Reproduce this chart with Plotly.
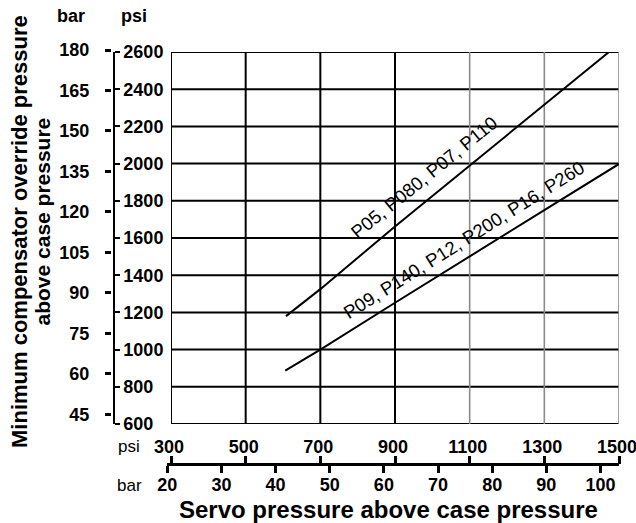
import plotly.graph_objects as go

# psi per bar
BAR_TO_PSI = 14.5038

# tick values
psi_y_ticks = [600, 800, 1000, 1200, 1400, 1600, 1800, 2000, 2200, 2400, 2600]
bar_y_ticks = [45, 60, 75, 90, 105, 120, 135, 150, 165, 180]
psi_x_ticks = [300, 500, 700, 900, 1100, 1300, 1500]
bar_x_ticks = [20, 30, 40, 50, 60, 70, 80, 90, 100]
gray_x_lines = [1100, 1300, 1500]

# curves (servo psi -> min compensator psi)
upper_servo = [608, 700, 900, 1100, 1478]
upper_comp = [1180, 1325, 1662, 1990, 2608]
upper_label = "P05, P080, P07, P110"

lower_servo = [606, 700, 900, 1100, 1300, 1500]
lower_comp = [887, 1000, 1252, 1499, 1750, 1998]
lower_label = "P09, P140, P12, P200, P16, P260"

FONT = "Liberation Sans, Arial, sans-serif"

# page geometry (pixels) -> paper fractions
ML, MR, MT, MB = 60, 17, 46, 40
W, H = 636, 523
PW, PH = W - ML - MR, H - MT - MB


def fx(p):
    return (p - ML) / PW


def fy(p):
    return (H - MB - p) / PH


xd0 = fx(171)
yd0, yd1 = fy(424), fy(52)
x_span = psi_x_ticks[-1] - psi_x_ticks[0]
y_span = psi_y_ticks[-1] - psi_y_ticks[0]

# bar x axis starts a little left of 300 psi so the 20 bar tick shows
bar_x_lo_psi = 289
bx0 = xd0 - (psi_x_ticks[0] - bar_x_lo_psi) / x_span * (1 - xd0)
# bar y axis runs a little above 2600 psi so the 180 bar tick shows
bar_y_hi_psi = psi_y_ticks[0] + (1 - yd0) / (yd1 - yd0) * y_span

fig = go.Figure()

fig.add_trace(go.Scatter(x=upper_servo, y=upper_comp, mode="lines",
                         line=dict(color="black", width=2), hoverinfo="skip"))
fig.add_trace(go.Scatter(x=lower_servo, y=lower_comp, mode="lines",
                         line=dict(color="black", width=2), hoverinfo="skip"))
# invisible trace to bring up the bar axes
fig.add_trace(go.Scatter(x=[50], y=[100], xaxis="x2", yaxis="y2", mode="markers",
                         marker=dict(opacity=0), hoverinfo="skip"))

# grid
for v in psi_y_ticks:
    fig.add_shape(type="line", xref="x", yref="y", x0=psi_x_ticks[0], x1=psi_x_ticks[-1],
                  y0=v, y1=v, line=dict(color="black", width=2), layer="below")
for v in psi_x_ticks:
    gray = v in gray_x_lines
    fig.add_shape(type="line", xref="x", yref="y", x0=v, x1=v,
                  y0=psi_y_ticks[0], y1=psi_y_ticks[-1],
                  line=dict(color="#8a8a8a" if gray else "black", width=1.6 if gray else 2),
                  layer="below")

tick_font = dict(family=FONT, size=18, color="black", weight="bold")

fig.update_layout(
    width=W, height=H,
    margin=dict(l=ML, r=MR, t=MT, b=MB, autoexpand=False),
    paper_bgcolor="white",
    plot_bgcolor="rgba(0,0,0,0)",
    showlegend=False,
    font=dict(family=FONT, color="black"),
    xaxis=dict(domain=[xd0, 1], range=[psi_x_ticks[0], psi_x_ticks[-1]],
               anchor="free", position=fy(464), side="top",
               tickmode="array", tickvals=psi_x_ticks,
               ticks="outside", ticklen=8, tickwidth=3, tickcolor="black",
               ticklabelstandoff=-4, ticklabelshift=-2, ticklabeloverflow="allow",
               automargin=False,
               showline=False, showgrid=False, zeroline=False, tickfont=tick_font),
    yaxis=dict(domain=[yd0, yd1], range=[psi_y_ticks[0], psi_y_ticks[-1]],
               anchor="free", position=fx(114), side="right",
               tickmode="array", tickvals=psi_y_ticks,
               ticks="outside", ticklen=5, tickwidth=2, tickcolor="black",
               ticklabeloverflow="allow", automargin=False,
               showline=True, linewidth=1.5, linecolor="black",
               showgrid=False, zeroline=False, tickfont=tick_font),
    xaxis2=dict(domain=[bx0, 1],
                range=[bar_x_lo_psi / BAR_TO_PSI, psi_x_ticks[-1] / BAR_TO_PSI],
                anchor="free", position=fy(464), side="bottom",
                tickmode="array", tickvals=bar_x_ticks,
                ticks="outside", ticklen=7, tickwidth=3, tickcolor="black",
                ticklabelstandoff=-3, ticklabeloverflow="allow", automargin=False,
                showline=True, linewidth=2.5, linecolor="black",
                showgrid=False, zeroline=False, tickfont=tick_font),
    yaxis2=dict(domain=[yd0, 1],
                range=[psi_y_ticks[0] / BAR_TO_PSI, bar_y_hi_psi / BAR_TO_PSI],
                anchor="free", position=fx(111), side="left",
                tickmode="array", tickvals=bar_y_ticks,
                ticks="outside", ticklen=6, tickwidth=3, tickcolor="black",
                ticklabelstandoff=12, ticklabeloverflow="allow", automargin=False,
                showline=False, showgrid=False, zeroline=False, tickfont=tick_font),
)

bold = dict(family=FONT, color="black", weight="bold")
notes = [
    dict(text="bar", x=fx(71), y=fy(16), font=dict(bold, size=18)),
    dict(text="psi", x=fx(134), y=fy(16), font=dict(bold, size=18)),
    dict(text="psi", x=fx(129), y=fy(446), font=dict(family=FONT, size=17, color="black")),
    dict(text="bar", x=fx(129), y=fy(485), font=dict(family=FONT, size=17, color="black")),
    dict(text="Servo pressure above case pressure", x=fx(388), y=fy(509),
         font=dict(bold, size=24)),
    dict(text="Minimum compensator override pressure", x=fx(20), y=fy(232),
         textangle=-90, font=dict(bold, size=22)),
    dict(text="above case pressure", x=fx(41.5), y=fy(222),
         textangle=-90, font=dict(bold, size=21)),
]
for n in notes:
    fig.add_annotation(xref="paper", yref="paper", showarrow=False,
                       xanchor="center", yanchor="middle", **n)

fig.add_annotation(text=upper_label, x=977, y=1927, xref="x", yref="y",
                   showarrow=False, textangle=-39,
                   font=dict(family=FONT, size=18.5, color="black"))
fig.add_annotation(text=lower_label, x=1086, y=1592, xref="x", yref="y",
                   showarrow=False, textangle=-32,
                   font=dict(family=FONT, size=18.5, color="black"))

fig.write_html("out.html", config={"displayModeBar": False},
               post_script="document.body.style.margin='0';document.body.style.overflow='hidden';")
